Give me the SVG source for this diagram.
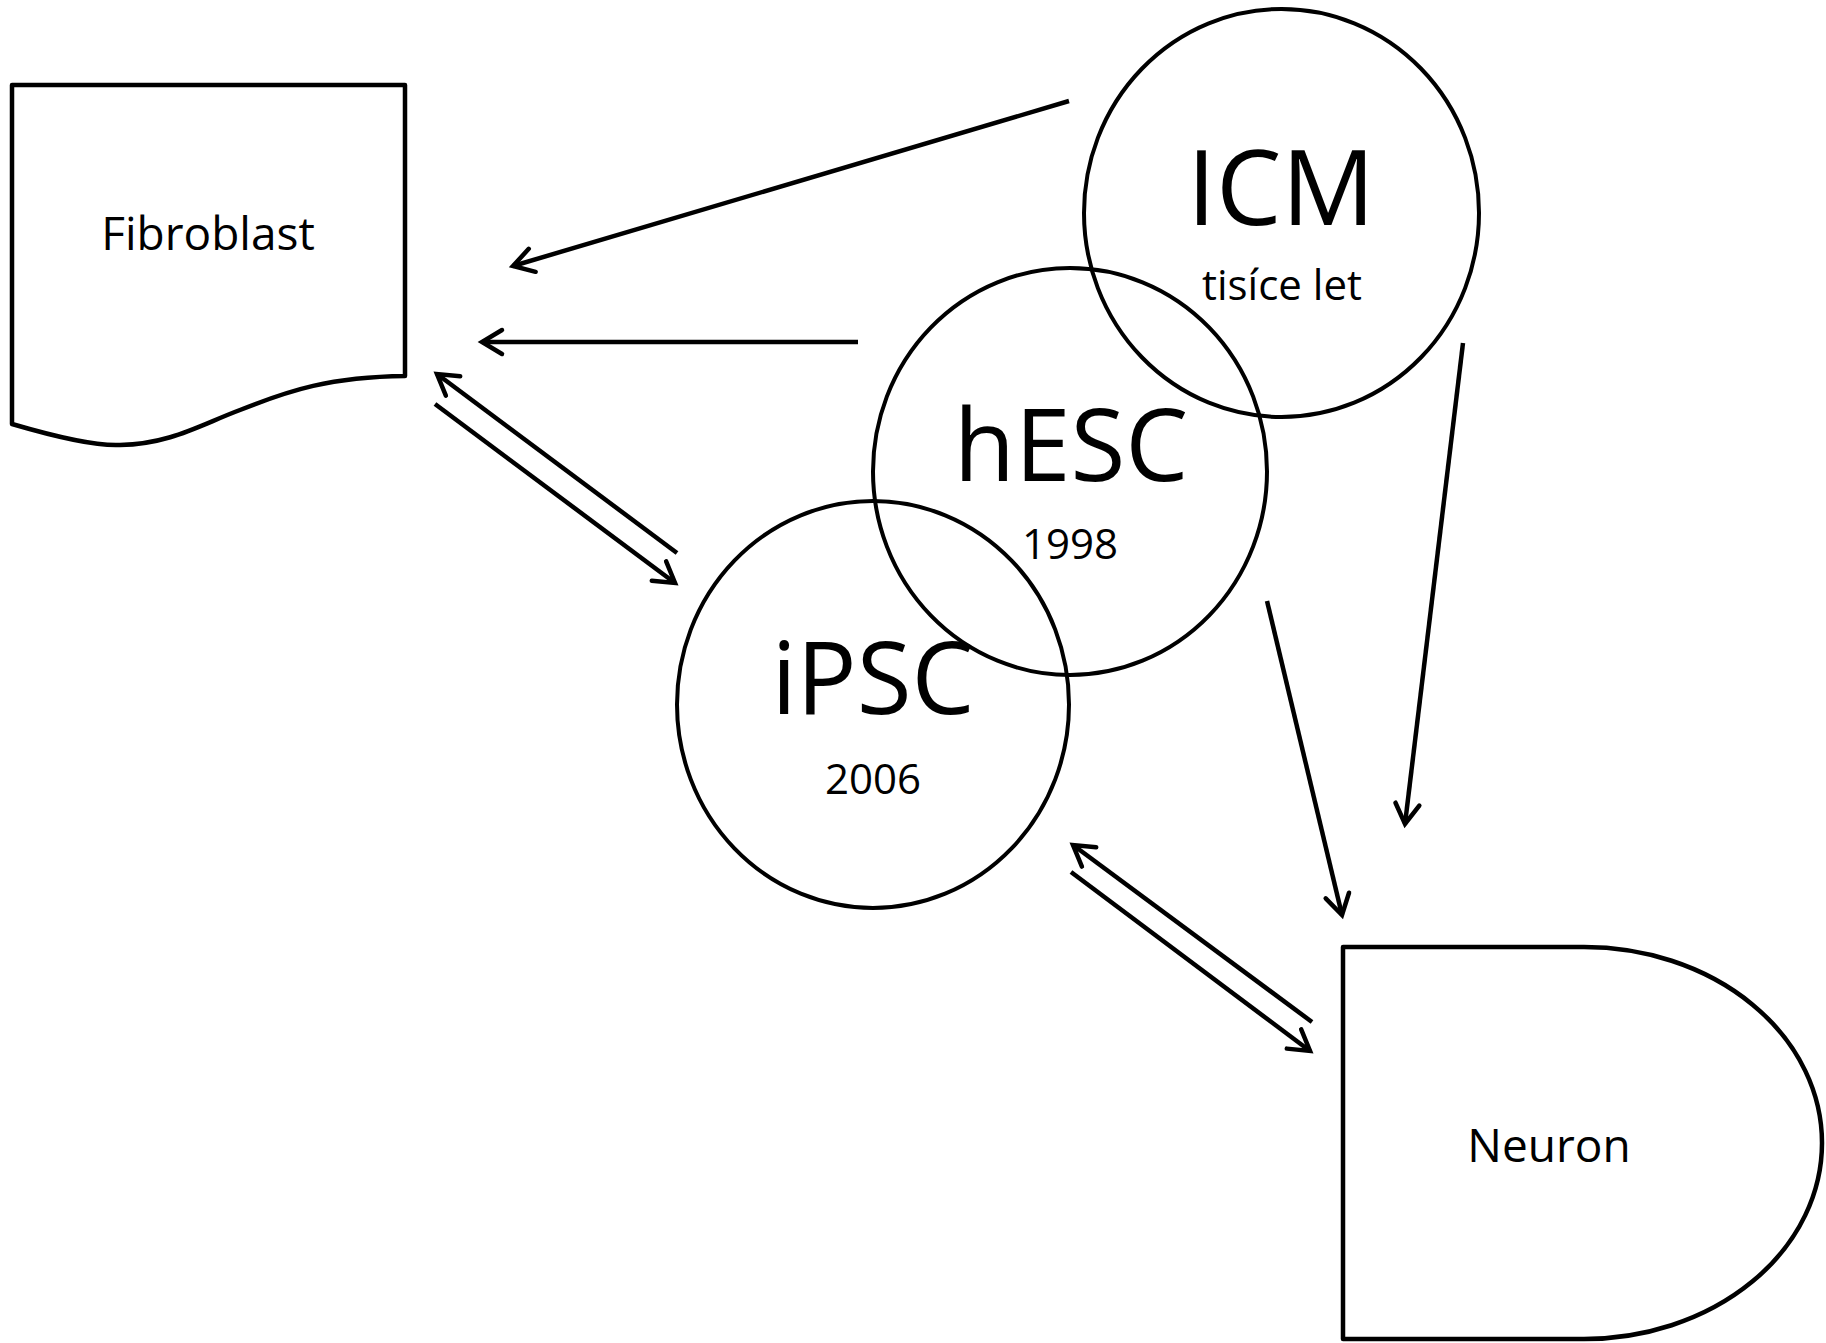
<svg xmlns="http://www.w3.org/2000/svg" width="1826" height="1343" viewBox="0 0 1826 1343">
<defs>
<style>
.shape{fill:none;stroke:#000;stroke-width:4.5;stroke-linejoin:round}
.circ{fill:none;stroke:#000;stroke-width:4}
.conn{fill:none;stroke:#000;stroke-width:4.5;marker-end:url(#arr)}
text{font-family:"Open Sans","Noto Sans","Liberation Sans",sans-serif;fill:#000;text-anchor:middle}
.big{font-size:100px}
.icm{font-size:104px}
.small{font-size:42px}
.label{font-size:46px}
</style>
<marker id="arr" markerUnits="userSpaceOnUse" markerWidth="40" markerHeight="40" refX="0" refY="0" orient="auto" style="overflow:visible">
<path d="M-20,-12 L0,0 L-20,12" fill="none" stroke="#000" stroke-width="4.5" stroke-linecap="round" stroke-linejoin="miter"/>
</marker>
</defs>
<rect width="1826" height="1343" fill="#fff"/>
<g id="connectors">
<line class="conn" x1="1069" y1="101" x2="513" y2="266"/>
<line class="conn" x1="858" y1="342" x2="482" y2="342"/>
<line class="conn" x1="677" y1="553" x2="437" y2="374"/>
<line class="conn" x1="435" y1="404" x2="675" y2="583"/>
<line class="conn" x1="1312" y1="1022" x2="1073" y2="845"/>
<line class="conn" x1="1071" y1="872" x2="1310" y2="1051"/>
<line class="conn" x1="1267" y1="601" x2="1342" y2="915"/>
<line class="conn" x1="1463" y1="343" x2="1405" y2="824"/>
</g>
<g id="fibroblast">
<path class="shape" d="M12,424 L12,85 L405,85 L405,376 C330,377 290,390 240,410 C200,425 170,444 120,445 C100,446 70,441 12,424 Z"/>
<text class="label" x="208" y="250">Fibroblast</text>
</g>
<g id="icm">
<ellipse class="circ" cx="1281.5" cy="213" rx="197.5" ry="204"/>
<text class="icm" x="1281" y="225">ICM</text>
<text class="small" x="1282" y="300">tisíce let</text>
</g>
<g id="hesc">
<ellipse class="circ" cx="1070" cy="471.5" rx="197" ry="203.5"/>
<text class="big" x="1071" y="481">hESC</text>
<text class="small" x="1070" y="559">1998</text>
</g>
<g id="ipsc">
<ellipse class="circ" cx="873" cy="704.5" rx="196" ry="203.5"/>
<text class="big" x="873" y="714">iPSC</text>
<text class="small" x="873" y="794">2006</text>
</g>
<g id="neuron">
<path class="shape" d="M1343,947 L1584,947 A238,196 0 0 1 1584,1339 L1343,1339 Z"/>
<text class="label" x="1549" y="1162">Neuron</text>
</g>
</svg>
